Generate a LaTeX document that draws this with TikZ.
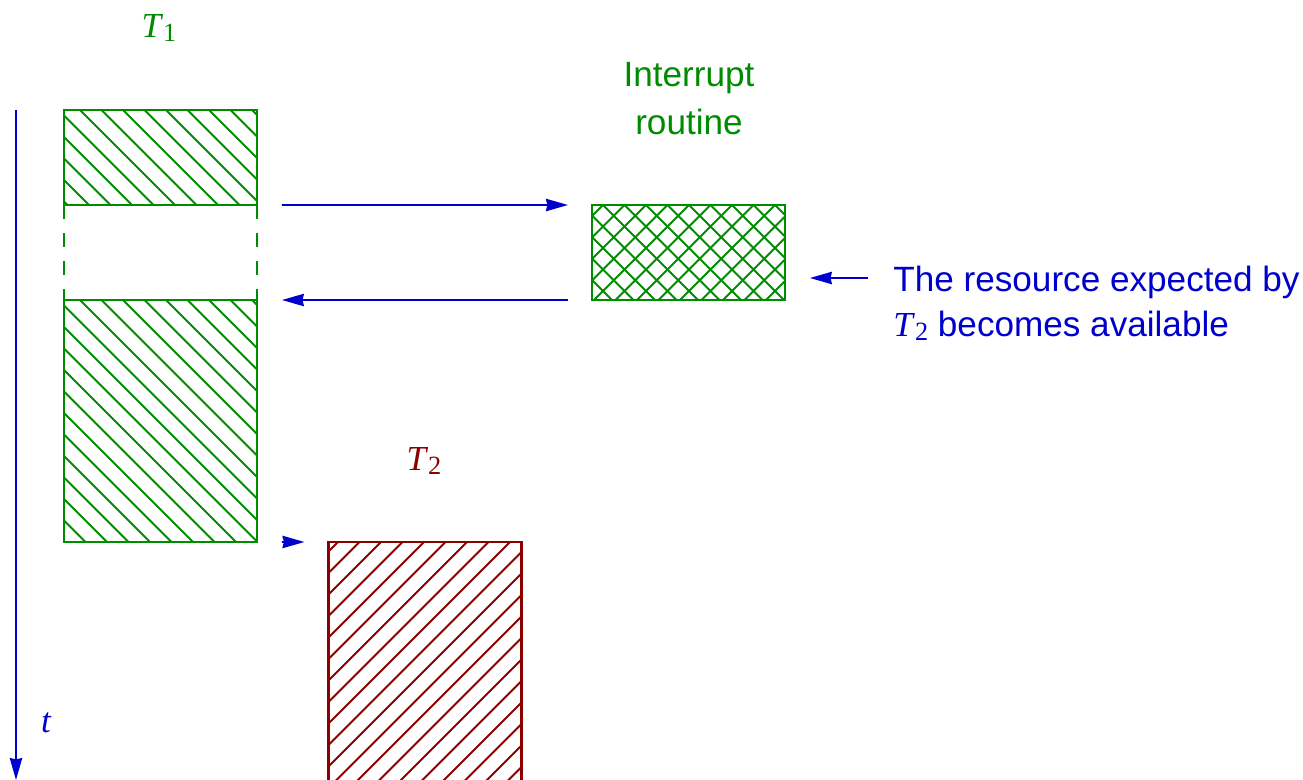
\documentclass[tikz,border=0pt]{standalone}
\usepackage{fontspec}
\setmainfont{Liberation Sans}
\newfontfamily\tmsfont{Liberation Serif}
\usetikzlibrary{arrows.meta}
\definecolor{tgreen}{RGB}{0,140,0}
\definecolor{tblue}{RGB}{0,0,205}
\definecolor{tred}{RGB}{140,0,0}
\newcommand\Tsub[1]{{\tmsfont\itshape T}\kern0.06em\raisebox{-0.11em}{\tmsfont\fontsize{15}{15}\selectfont #1}}
\tikzset{
  lbl/.style={font=\fontsize{20}{24}\selectfont, inner sep=0pt},
  hl/.style={line width=1.1pt},
  box/.style={draw, line width=1.2pt, rectangle, inner sep=0pt, outer sep=0pt, minimum width=3.86cm},
  bs/.style={path picture={\foreach \i in {-15,...,14}{\draw[hl,draw=#1] ([xshift=0.32cm+\i*0.43cm]path picture bounding box.north west) -- ++(600,600);}}},
  fs/.style={path picture={\foreach \i in {0,...,36}{\draw[hl,draw=#1] ([xshift=0.19cm+\i*0.43cm]path picture bounding box.north west) -- ++(-600,600);}}},
  xs/.style={path picture={\foreach \i in {-8,...,14}{\draw[hl,draw=#1] ([xshift=0.22cm+\i*0.43cm]path picture bounding box.north west) -- ++(600,600);}
                            \foreach \i in {0,...,20}{\draw[hl,draw=#1] ([xshift=0.22cm+\i*0.43cm]path picture bounding box.north west) -- ++(-600,600);}}},
  arr/.style={tblue, line width=1.1pt, -{Stealth[length=12.5pt,width=7pt,inset=0.8pt]}},
  dsh/.style={tgreen, line width=1.2pt, dash pattern=on 8pt off 8pt}
}
\begin{document}
\begin{tikzpicture}[x=0.02cm,y=-0.02cm]
\useasboundingbox (0,0) rectangle (1303,780);
% task blocks
\node[box, draw=tgreen, bs=tgreen, minimum height=1.9cm] (T1a) at (160.5,157.5) {};
\node[box, draw=tgreen, bs=tgreen, minimum height=4.84cm] (T1b) at (160.5,421) {};
\node[box, draw=tgreen, xs=tgreen, minimum height=1.9cm] (IR) at (688.5,252.5) {};
\node[box, draw=tred, fs=tred, minimum height=5.56cm] (T2) at (425,681) {};
% dashed suspension
\draw[dsh] (T1a.south west) -- (T1b.north west);
\draw[dsh] (T1a.south east) -- (T1b.north east);
% connectors
\draw[arr, shorten <=14.2pt, shorten >=13.7pt] (T1a.south east) -- (IR.north west);
\draw[arr, shorten <=13.7pt, shorten >=14.2pt] (IR.south west) -- (T1b.north east);
\draw[arr, shorten <=14.2pt, shorten >=13.7pt] (T1b.south east) -- (T2.north west);
\coordinate (resstart) at (868,278);
\draw[arr, shorten >=14.2pt] (resstart) -- (IR.east |- resstart);
% time axis
\coordinate (ta) at (16,110);
\coordinate (tb) at (16,780);
\draw[arr, line width=1.2pt] (ta) -- (tb);
% labels
\node[lbl, tgreen, anchor=base] (T1l) at (159,38) {\Tsub{1}};
\node[lbl, tgreen, anchor=base] (ir1) at (689,87) {Interrupt};
\node[lbl, tgreen, anchor=base] (ir2) at (689,135) {routine};
\node[lbl, tblue, anchor=base west] (res1) at (893,292) {The resource expected by};
\node[lbl, tblue, anchor=base west] (res2) at (893,337) {\Tsub{2} becomes available};
\node[lbl, tred, anchor=base] (T2l) at (424,471) {\Tsub{2}};
\node[lbl, tblue, anchor=base] (tl) at (46,733) {{\tmsfont\itshape t}};
\end{tikzpicture}
\end{document}
